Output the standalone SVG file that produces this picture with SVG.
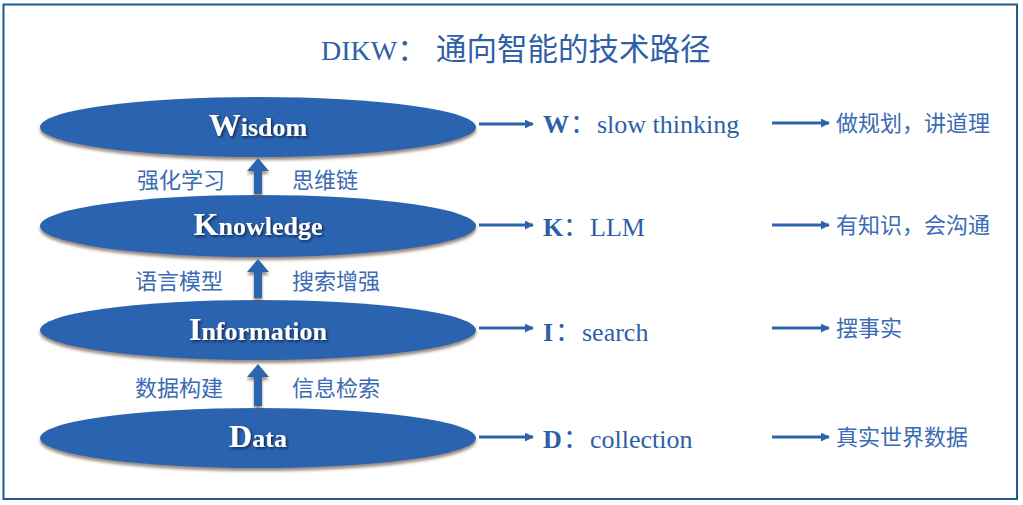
<svg xmlns="http://www.w3.org/2000/svg" width="1023" height="505" viewBox="0 0 1023 505">
<defs>
<filter id="eshadow" x="-5%" y="-20%" width="110%" height="150%">
<feDropShadow dx="0" dy="3" stdDeviation="1.8" flood-color="#6e5a48" flood-opacity="0.7"/>
</filter>
<filter id="tshadow" x="-10%" y="-20%" width="120%" height="150%">
<feDropShadow dx="1.5" dy="1.5" stdDeviation="1" flood-color="#0a1a33" flood-opacity="0.8"/>
</filter>
<marker id="ah" viewBox="0 0 10 10" refX="9" refY="5" markerWidth="3" markerHeight="3" orient="auto" markerUnits="strokeWidth">
<path d="M0,0 L10,5 L0,10 z" fill="#2f62ad"/>
</marker>
</defs>
<style>
.ell{fill:#2964b0;filter:url(#eshadow)}
.lbl{font-family:"Liberation Serif","Times New Roman",serif;font-weight:bold;fill:#ffffff;text-anchor:middle;filter:url(#tshadow)}
.en{font-family:"Liberation Serif","Times New Roman",serif;font-size:26px;fill:#2e5fa8}
.cn{font-family:"Liberation Sans","Noto Sans CJK SC",sans-serif;font-size:22px;fill:#3a6bb4}
.cnc{font-family:"Noto Sans CJK SC",sans-serif}
.conn{stroke:#2f62ad;stroke-width:3;fill:none;marker-end:url(#ah)}
.up{fill:#2a65b0;filter:url(#eshadow)}
</style>
<rect x="3.5" y="4.5" width="1013.5" height="494.5" fill="#ffffff" stroke="#1f5c8e" stroke-width="2"/>
<text x="321" y="60" font-family="Liberation Serif, serif" font-size="28" fill="#2e5fa8">DIKW<tspan class="cnc" font-size="30">：</tspan><tspan class="cnc" x="436" font-size="30.5">通向智能的技术路径</tspan></text>
<g id="wisdom">
<ellipse class="ell" cx="258" cy="127" rx="218" ry="30"/>
<text class="lbl" x="258" y="136" font-size="26"><tspan font-size="32">W</tspan>isdom</text>
</g>
<g id="knowledge">
<ellipse class="ell" cx="258" cy="226" rx="218" ry="31"/>
<text class="lbl" x="258" y="235" font-size="26"><tspan font-size="32">K</tspan>nowledge</text>
</g>
<g id="information">
<ellipse class="ell" cx="258" cy="330" rx="218" ry="30"/>
<text class="lbl" x="258" y="340" font-size="26"><tspan font-size="32">I</tspan>nformation</text>
</g>
<g id="data">
<ellipse class="ell" cx="258" cy="438" rx="218" ry="30"/>
<text class="lbl" x="258" y="447" font-size="26"><tspan font-size="32">D</tspan>ata</text>
</g>
<g id="w-label"><text class="en" x="543" y="133"><tspan font-weight="bold">W</tspan><tspan class="cnc" x="570">：</tspan><tspan x="597">slow thinking</tspan></text></g>
<g id="k-label"><text class="en" x="543" y="236"><tspan font-weight="bold">K</tspan><tspan class="cnc" x="563">：</tspan><tspan x="590">LLM</tspan></text></g>
<g id="i-label"><text class="en" x="543" y="341"><tspan font-weight="bold">I</tspan><tspan class="cnc" x="555">：</tspan><tspan x="582">search</tspan></text></g>
<g id="d-label"><text class="en" x="543" y="448"><tspan font-weight="bold">D</tspan><tspan class="cnc" x="563">：</tspan><tspan x="590">collection</tspan></text></g>
<g id="w-desc"><text class="cn" x="836" y="131">做规划，讲道理</text></g>
<g id="k-desc"><text class="cn" x="836" y="233">有知识，会沟通</text></g>
<g id="i-desc"><text class="cn" x="836" y="336">摆事实</text></g>
<g id="d-desc"><text class="cn" x="836" y="445">真实世界数据</text></g>
<g id="edge-labels">
<text class="cn" x="137" y="188">强化学习</text>
<text class="cn" x="292" y="188">思维链</text>
<text class="cn" x="135" y="289">语言模型</text>
<text class="cn" x="292" y="289">搜索增强</text>
<text class="cn" x="135" y="396">数据构建</text>
<text class="cn" x="292" y="396">信息检索</text>
</g>
<g id="connectors">
<polygon class="up" points="258,158 269,171 262,171 262,194 254,194 254,171 247,171"/>
<polygon class="up" points="258,259 269,272 262,272 262,298 254,298 254,272 247,272"/>
<polygon class="up" points="258,364 269,377 262,377 262,406 254,406 254,377 247,377"/>
<line class="conn" x1="479" y1="124" x2="533" y2="124"/>
<line class="conn" x1="479" y1="225" x2="533" y2="225"/>
<line class="conn" x1="479" y1="328" x2="533" y2="328"/>
<line class="conn" x1="479" y1="437" x2="533" y2="437"/>
<line class="conn" x1="772" y1="123" x2="829" y2="123"/>
<line class="conn" x1="772" y1="225" x2="829" y2="225"/>
<line class="conn" x1="772" y1="328" x2="829" y2="328"/>
<line class="conn" x1="772" y1="437" x2="829" y2="437"/>
</g>
</svg>
